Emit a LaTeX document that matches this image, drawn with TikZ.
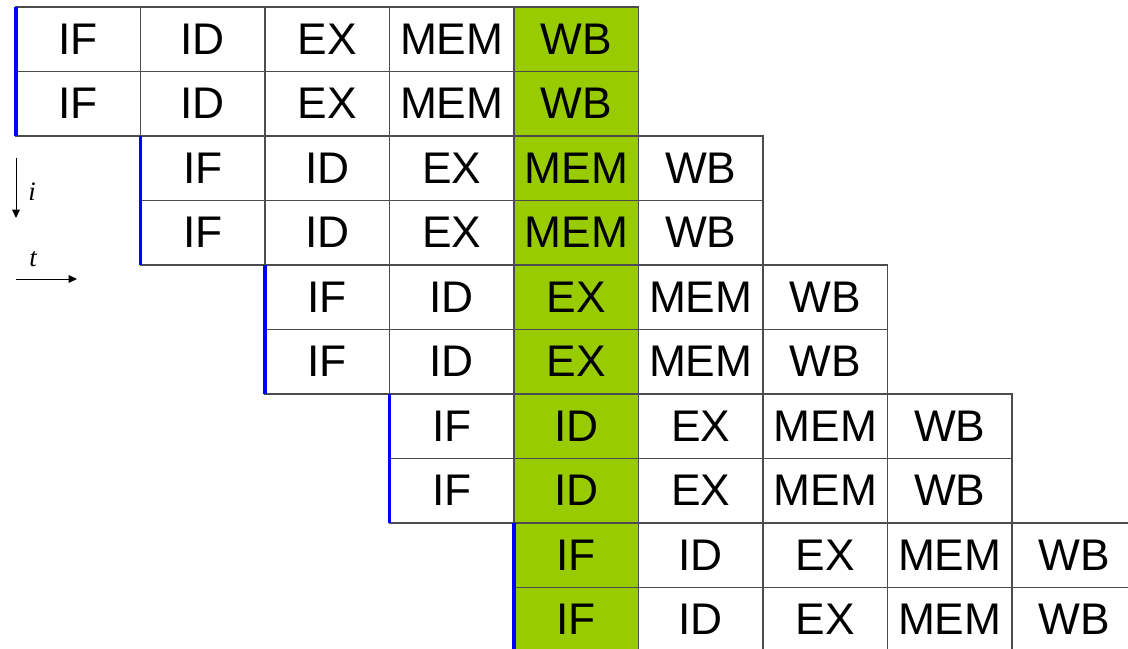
\documentclass[tikz,border=0pt]{standalone}
\usepackage{fontspec}
\setmainfont{Liberation Sans}
\newfontfamily\serifit{Liberation Serif}
\usetikzlibrary{arrows.meta}
\definecolor{stagegreen}{HTML}{99CC00}
\begin{document}
\begin{tikzpicture}[x=0.025cm,y=-0.025cm]
	\def\w{124.5}
	\def\h{64.5}
	\tikzset{st/.style={draw=black!70,line width=0.9pt,outer sep=0,inner sep=0,minimum width=3.1125cm,minimum height=1.6125cm,font=\fontsize{31.5}{31.5}\selectfont},
	lab/.style={inner sep=0,font=\fontsize{19}{19}\serifit\itshape}}
	\useasboundingbox(0,0)rectangle(1128,649);
	\foreach \g in {0,...,4}
	\foreach \r in {0,1}
	\foreach \s[count=\n from 0] in {IF,ID,EX,MEM,WB}{
		\pgfmathtruncatemacro\col{\g+\n}
		\pgfmathtruncatemacro\row{2*\g+\r}
		\ifnum\col=4 \def\fc{stagegreen}\else\def\fc{none}\fi
		\path(16+\col*\w+\w/2,7+\row*\h+\h/2)node[st,fill=\fc](c\row-\col){\s};
	}
	\foreach \g in {0,...,4}{
		\pgfmathtruncatemacro\a{2*\g}
		\pgfmathtruncatemacro\b{2*\g+1}
		\draw[blue,line width=2.3pt](c\a-\g.north west)--(c\b-\g.south west);
	}
	\path(16,158)coordinate(i0)(16,218)coordinate(i1)(32,192)node[lab](i){i};
	\path(16,279)coordinate(t0)(77,279)coordinate(t1)(33,259)node[lab](t){t};
	\foreach \x/\y in {i0/i1,t0/t1}
	\draw[line width=0.7pt,-{Stealth[length=6pt,width=5.5pt,inset=0pt]}](\x)--(\y);
\end{tikzpicture}
\end{document}
